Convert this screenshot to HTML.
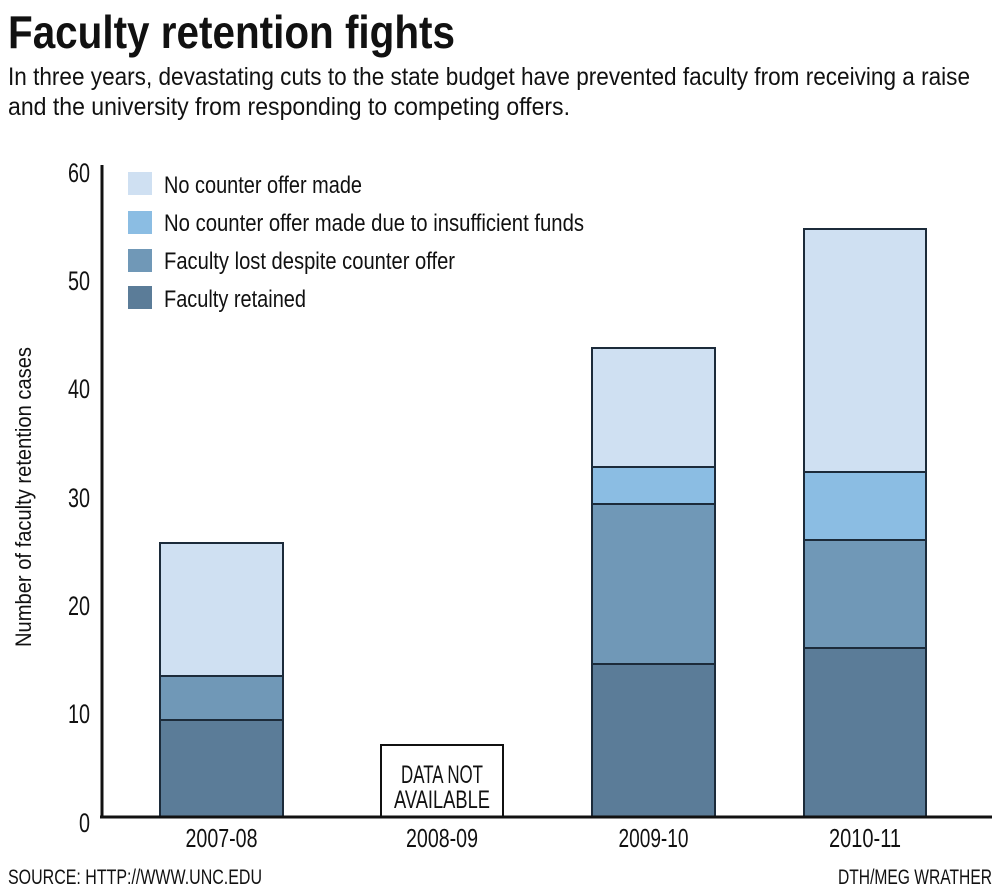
<!DOCTYPE html>
<html>
<head>
<meta charset="utf-8">
<style>
  html, body { margin:0; padding:0; background:#fff; }
  body { width:1000px; height:890px; overflow:hidden; }
  svg { display:block; }
  text { font-family: "Liberation Sans", sans-serif; fill:#111; }
</style>
</head>
<body>
<svg width="1000" height="890" viewBox="0 0 1000 890" xmlns="http://www.w3.org/2000/svg">
  <rect x="0" y="0" width="1000" height="890" fill="#fff"/>

  <!-- Title -->
  <text x="8" y="48" font-size="46" font-weight="bold" textLength="447" lengthAdjust="spacingAndGlyphs">Faculty retention fights</text>
  <text x="8" y="85" font-size="25" textLength="962" lengthAdjust="spacingAndGlyphs">In three years, devastating cuts to the state budget have prevented faculty from receiving a raise</text>
  <text x="8" y="115" font-size="25" textLength="562" lengthAdjust="spacingAndGlyphs">and the university from responding to competing offers.</text>

  <!-- Legend -->
  <rect x="128" y="172" width="24" height="23" fill="#cfe0f2"/>
  <rect x="128" y="211" width="24" height="23" fill="#8bbde3"/>
  <rect x="128" y="249" width="24" height="23" fill="#7098b7"/>
  <rect x="128" y="286" width="24" height="23" fill="#5b7c98"/>
  <text x="164" y="193" font-size="24" textLength="198" lengthAdjust="spacingAndGlyphs">No counter offer made</text>
  <text x="164" y="231" font-size="24" textLength="420" lengthAdjust="spacingAndGlyphs">No counter offer made due to insufficient funds</text>
  <text x="164" y="269" font-size="24" textLength="291" lengthAdjust="spacingAndGlyphs">Faculty lost despite counter offer</text>
  <text x="164" y="307" font-size="24" textLength="142" lengthAdjust="spacingAndGlyphs">Faculty retained</text>

  <!-- Y axis title -->
  <text transform="translate(31,497) rotate(-90)" x="0" y="0" font-size="22" text-anchor="middle" textLength="300" lengthAdjust="spacingAndGlyphs">Number of faculty retention cases</text>

  <!-- Y tick labels -->
  <g font-size="27" text-anchor="end">
    <text x="90" y="182" textLength="22" lengthAdjust="spacingAndGlyphs">60</text>
    <text x="90" y="290" textLength="22" lengthAdjust="spacingAndGlyphs">50</text>
    <text x="90" y="398" textLength="22" lengthAdjust="spacingAndGlyphs">40</text>
    <text x="90" y="507" textLength="22" lengthAdjust="spacingAndGlyphs">30</text>
    <text x="90" y="615" textLength="22" lengthAdjust="spacingAndGlyphs">20</text>
    <text x="90" y="723" textLength="22" lengthAdjust="spacingAndGlyphs">10</text>
    <text x="90" y="832" textLength="11" lengthAdjust="spacingAndGlyphs">0</text>
  </g>

  <!-- Bars 2007-08 -->
  <g stroke="#1c2b3a" stroke-width="2">
    <rect x="160" y="720" width="123" height="97" fill="#5b7c98"/>
    <rect x="160" y="676" width="123" height="44" fill="#7098b7"/>
    <rect x="160" y="543" width="123" height="133" fill="#cfe0f2"/>
  </g>
  <!-- Bars 2009-10 -->
  <g stroke="#1c2b3a" stroke-width="2">
    <rect x="592" y="664" width="123" height="153" fill="#5b7c98"/>
    <rect x="592" y="504" width="123" height="160" fill="#7098b7"/>
    <rect x="592" y="467" width="123" height="37" fill="#8bbde3"/>
    <rect x="592" y="348" width="123" height="119" fill="#cfe0f2"/>
  </g>
  <!-- Bars 2010-11 -->
  <g stroke="#1c2b3a" stroke-width="2">
    <rect x="804" y="648" width="122" height="169" fill="#5b7c98"/>
    <rect x="804" y="540" width="122" height="108" fill="#7098b7"/>
    <rect x="804" y="472" width="122" height="68" fill="#8bbde3"/>
    <rect x="804" y="229" width="122" height="243" fill="#cfe0f2"/>
  </g>

  <!-- Data not available box -->
  <rect x="381" y="745" width="122" height="72" fill="#fff" stroke="#111" stroke-width="2"/>
  <text x="442" y="783" font-size="25" text-anchor="middle" textLength="82" lengthAdjust="spacingAndGlyphs">DATA NOT</text>
  <text x="442" y="808" font-size="25" text-anchor="middle" textLength="96" lengthAdjust="spacingAndGlyphs">AVAILABLE</text>

  <!-- Axes -->
  <line x1="102" y1="165" x2="102" y2="818" stroke="#111" stroke-width="3"/>
  <line x1="100" y1="817" x2="992" y2="817" stroke="#111" stroke-width="3"/>

  <!-- X labels -->
  <g font-size="26" text-anchor="middle">
    <text x="221.5" y="847" textLength="72" lengthAdjust="spacingAndGlyphs">2007-08</text>
    <text x="442" y="847" textLength="72" lengthAdjust="spacingAndGlyphs">2008-09</text>
    <text x="653.5" y="847" textLength="70" lengthAdjust="spacingAndGlyphs">2009-10</text>
    <text x="865" y="847" textLength="72" lengthAdjust="spacingAndGlyphs">2010-11</text>
  </g>

  <!-- Footer -->
  <text x="8" y="884" font-size="21" textLength="254" lengthAdjust="spacingAndGlyphs">SOURCE: HTTP://WWW.UNC.EDU</text>
  <text x="992" y="884" font-size="21" text-anchor="end" textLength="154" lengthAdjust="spacingAndGlyphs">DTH/MEG WRATHER</text>
</svg>
</body>
</html>
